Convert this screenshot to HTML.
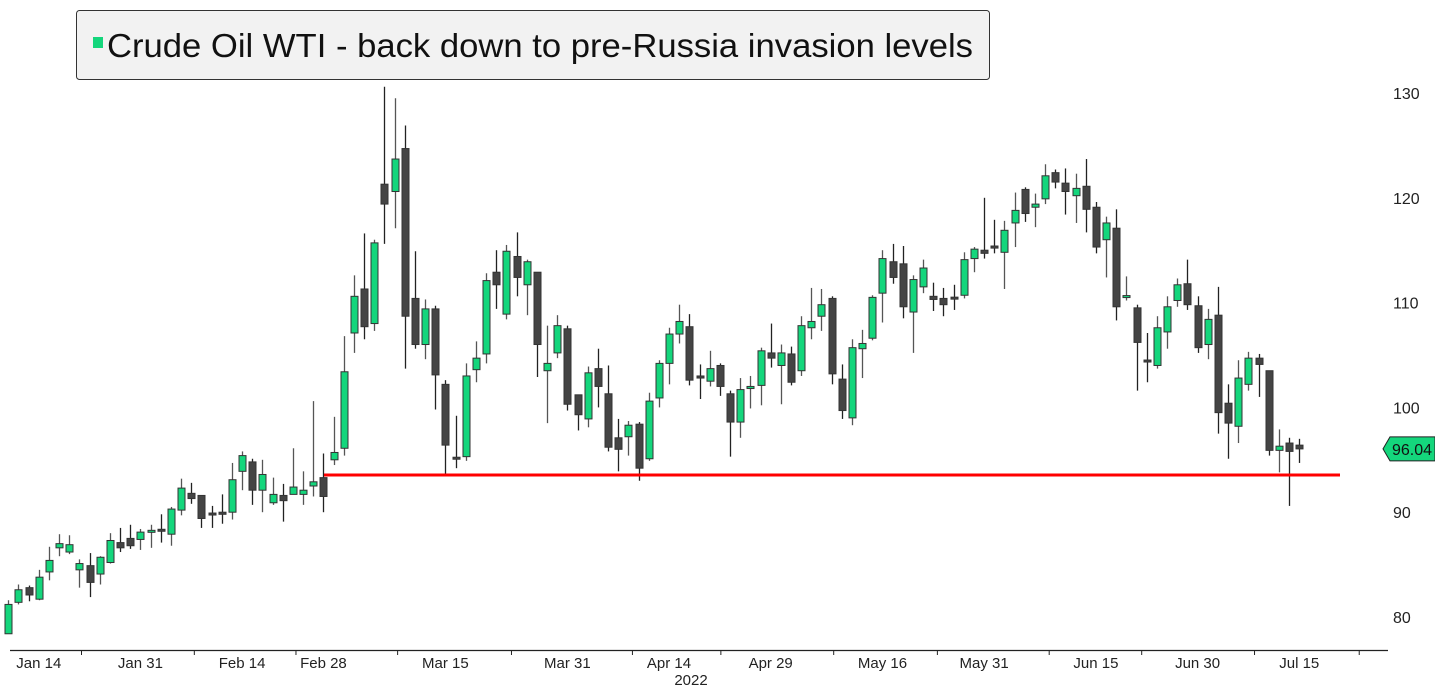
<!DOCTYPE html>
<html><head><meta charset="utf-8"><style>
html,body{margin:0;padding:0;background:#fff;}
svg{display:block;font-family:"Liberation Sans","DejaVu Sans",sans-serif;}
</style></head><body>
<svg id="chart" width="1435" height="689" viewBox="0 0 1435 689" xmlns="http://www.w3.org/2000/svg">
<rect x="0" y="0" width="1435" height="689" fill="#fff"/>
<g id="candles"></g>
<g id="axes"></g>
<g>
<rect x="76.5" y="10.5" width="913" height="69" rx="3" fill="#f2f2f2" stroke="#333" stroke-width="1"/>
<rect x="93" y="37" width="10" height="11" fill="#14d67c"/>
<text x="107" y="57" font-size="33" fill="#111" textLength="866" lengthAdjust="spacingAndGlyphs">Crude Oil WTI - back down to pre-Russia invasion levels</text>
</g>
</svg>
<script>
const opens=[78.4,81.4,82.8,81.7,84.3,86.6,86.2,84.5,84.9,84.1,85.2,87.1,87.5,87.4,88.15,88.3,87.9,90.2,91.8,91.6,89.85,90.0,90.0,93.9,94.8,92.1,90.9,91.6,91.7,91.7,92.5,93.3,95.0,96.1,107.1,111.3,108.0,121.3,120.6,124.7,110.4,106.0,109.4,102.2,95.2,95.3,103.6,105.1,112.9,108.9,114.4,111.7,112.9,103.5,105.2,107.5,101.2,98.9,103.7,101.3,97.1,97.2,98.4,95.1,100.9,104.2,107.0,107.7,103.0,102.5,104.0,101.3,98.6,101.8,102.1,105.2,104.0,105.1,103.5,107.6,108.7,110.4,102.7,99.0,105.6,106.6,110.9,113.9,113.7,109.1,111.5,110.6,110.4,110.45,110.7,114.2,115.0,115.4,114.8,117.6,120.8,119.1,119.9,122.4,121.4,120.2,121.1,119.1,116.0,117.1,110.55,109.5,104.45,104.0,107.2,110.2,111.8,109.7,106.0,108.8,100.4,98.2,102.2,104.7,103.5,95.9,96.6,96.4];
const highs=[81.6,83.1,83.0,84.5,86.7,87.9,87.8,85.5,86.1,85.8,88.0,88.5,88.8,88.4,88.8,89.8,90.5,93.2,92.8,91.6,90.6,91.7,94.7,95.8,95.1,95.0,93.3,92.7,96.1,93.9,100.6,95.6,99.1,106.8,112.6,116.6,116.0,130.6,129.5,126.9,114.9,110.3,109.7,102.6,99.2,104.2,106.3,112.8,115.0,115.5,116.7,114.1,112.9,107.8,108.8,107.8,101.2,103.9,105.6,104.0,98.9,98.7,98.6,101.4,104.5,107.6,109.8,108.9,104.1,105.4,104.2,101.6,102.8,103.0,105.7,108.0,106.0,105.8,108.7,111.4,111.3,110.6,104.1,106.5,107.4,110.7,115.0,115.6,115.4,112.6,114.1,111.9,111.4,111.7,114.8,115.3,120.0,117.9,117.8,120.5,121.0,120.4,123.2,122.7,122.8,122.3,123.7,119.6,118.2,118.9,112.5,109.8,107.1,108.7,110.6,112.3,114.1,110.6,109.4,111.5,102.2,104.5,105.3,105.1,103.5,97.9,97.1,97.0];
const lows=[78.4,81.2,81.5,81.6,83.5,85.8,86.0,82.8,81.9,83.1,85.1,86.2,86.5,86.4,86.6,87.1,86.8,89.7,90.8,88.5,88.5,88.9,89.3,92.1,90.7,90.0,90.7,89.1,91.7,90.7,91.5,90.0,94.5,95.4,105.2,106.5,107.3,115.6,117.1,103.7,105.6,104.6,99.8,93.5,94.2,94.9,102.4,104.2,109.4,108.4,110.6,108.8,102.9,98.5,104.7,99.7,97.8,98.1,100.0,95.8,93.9,95.4,93.0,94.9,100.0,102.2,106.1,102.1,100.8,102.0,101.1,95.3,97.1,99.9,100.2,103.8,100.3,102.1,103.0,106.5,107.3,102.2,98.9,98.3,102.8,106.4,108.1,111.8,108.5,105.2,110.9,109.2,108.7,109.3,110.4,112.9,114.2,114.7,111.3,115.3,117.7,117.2,119.4,120.9,118.4,117.6,116.7,114.7,112.4,108.3,110.2,101.6,102.4,103.7,105.6,109.6,109.3,105.2,104.6,97.5,95.1,96.6,101.6,101.0,95.4,93.8,90.6,94.7];
const closes=[81.2,82.6,82.1,83.8,85.4,87.0,86.9,85.1,83.3,85.7,87.3,86.6,86.8,88.1,88.2,88.25,90.3,92.3,91.3,89.4,89.8,89.8,93.1,95.4,92.1,93.6,91.7,91.1,92.4,92.1,92.9,91.5,95.7,103.4,110.6,107.7,115.7,119.4,123.7,108.7,106.0,109.4,103.1,96.4,95.1,103.0,104.7,112.1,111.7,114.9,112.4,113.9,106.0,104.2,107.8,100.3,99.3,103.3,102.0,96.2,96.0,98.3,94.2,100.6,104.2,107.0,108.2,102.6,102.8,103.7,102.0,98.6,101.7,102.0,105.4,104.7,105.2,102.4,107.8,108.2,109.8,103.2,99.7,105.7,106.1,110.5,114.2,112.4,109.6,112.2,113.3,110.3,109.8,110.4,114.1,115.1,114.7,115.2,116.9,118.8,118.5,119.4,122.1,121.5,120.6,120.9,118.9,115.3,117.6,109.6,110.6,106.2,104.4,107.6,109.6,111.7,109.8,105.7,108.4,99.5,98.5,102.8,104.7,104.1,95.9,96.3,95.8,96.04];
const yTicks=[80,90,100,110,120,130];
const xLabels=["Jan 14","Jan 31","Feb 14","Feb 28","Mar 15","Mar 31","Apr 14","Apr 29","May 16","May 31","Jun 15","Jun 30","Jul 15"];
const xLabelIdx=[3,13,23,31,43,55,65,75,86,96,107,117,127];
const xTickIdx=[7.2,18.3,28.3,38.3,49.5,61.4,70.1,81.2,91.4,102.4,111.5,122.6,132.9];
const supportLevel=93.55;
const lastPrice=96.04;

const NS="http://www.w3.org/2000/svg";
function y(v){return 617-(v-80)*10.48;}
function x(i){return 8.3+i*10.165;}
function mk(tag,attrs,parent){const e=document.createElementNS(NS,tag);for(const k in attrs)e.setAttribute(k,attrs[k]);parent.appendChild(e);return e;}
const cg=document.getElementById('candles');
const ag=document.getElementById('axes');
for(let i=0;i<opens.length;i++){
  const up=closes[i]>=opens[i];
  const cx=Math.round(x(i))+0.5;
  const w=mk('line',{x1:cx,x2:cx,y1:y(highs[i]),y2:y(lows[i]),stroke:up?'#555':'#222','stroke-width':1.3},cg);
  
  
  let top=y(Math.max(opens[i],closes[i])),bot=y(Math.min(opens[i],closes[i]));
  if(bot-top<2){const m=(top+bot)/2;top=m-1;bot=m+1;}
  const b=mk('rect',{x:cx-3.5,y:top,width:7,height:bot-top,fill:up?'#14d67c':'#444',stroke:'#333','stroke-width':1},cg);
  
  
}
const sl=mk('line',{x1:324,x2:1340,y1:y(supportLevel),y2:y(supportLevel),stroke:'#ff0000','stroke-width':3},cg);


const axl=mk('line',{x1:10,x2:1388,y1:650.5,y2:650.5,stroke:'#222','stroke-width':1.2},ag);


xTickIdx.forEach(t=>{const tk=mk('line',{x1:x(t),x2:x(t),y1:650,y2:655,stroke:'#222','stroke-width':1},ag);
  
  });
xLabels.forEach((s,k)=>{const t=mk('text',{x:x(xLabelIdx[k]),y:668,'font-size':15,'text-anchor':'middle',fill:'#222'},ag);t.textContent=s;
  
  });
const yr=mk('text',{x:691,y:685,'font-size':15,'text-anchor':'middle',fill:'#222'},ag);yr.textContent='2022';


yTicks.forEach(v=>{const t=mk('text',{x:1393,y:y(v)+6,'font-size':16,fill:'#222'},ag);t.textContent=String(v);
  
  });
const ly=y(lastPrice);
const tag=mk('polygon',{points:`1383,${ly} 1390,${ly-12} 1435,${ly-12} 1435,${ly+12} 1390,${ly+12}`,fill:'#14d67c',stroke:'#222','stroke-width':1},ag);


const lt=mk('text',{x:1392,y:ly+6,'font-size':16,fill:'#111'},ag);lt.textContent=lastPrice.toFixed(2);


</script>
</body></html>
